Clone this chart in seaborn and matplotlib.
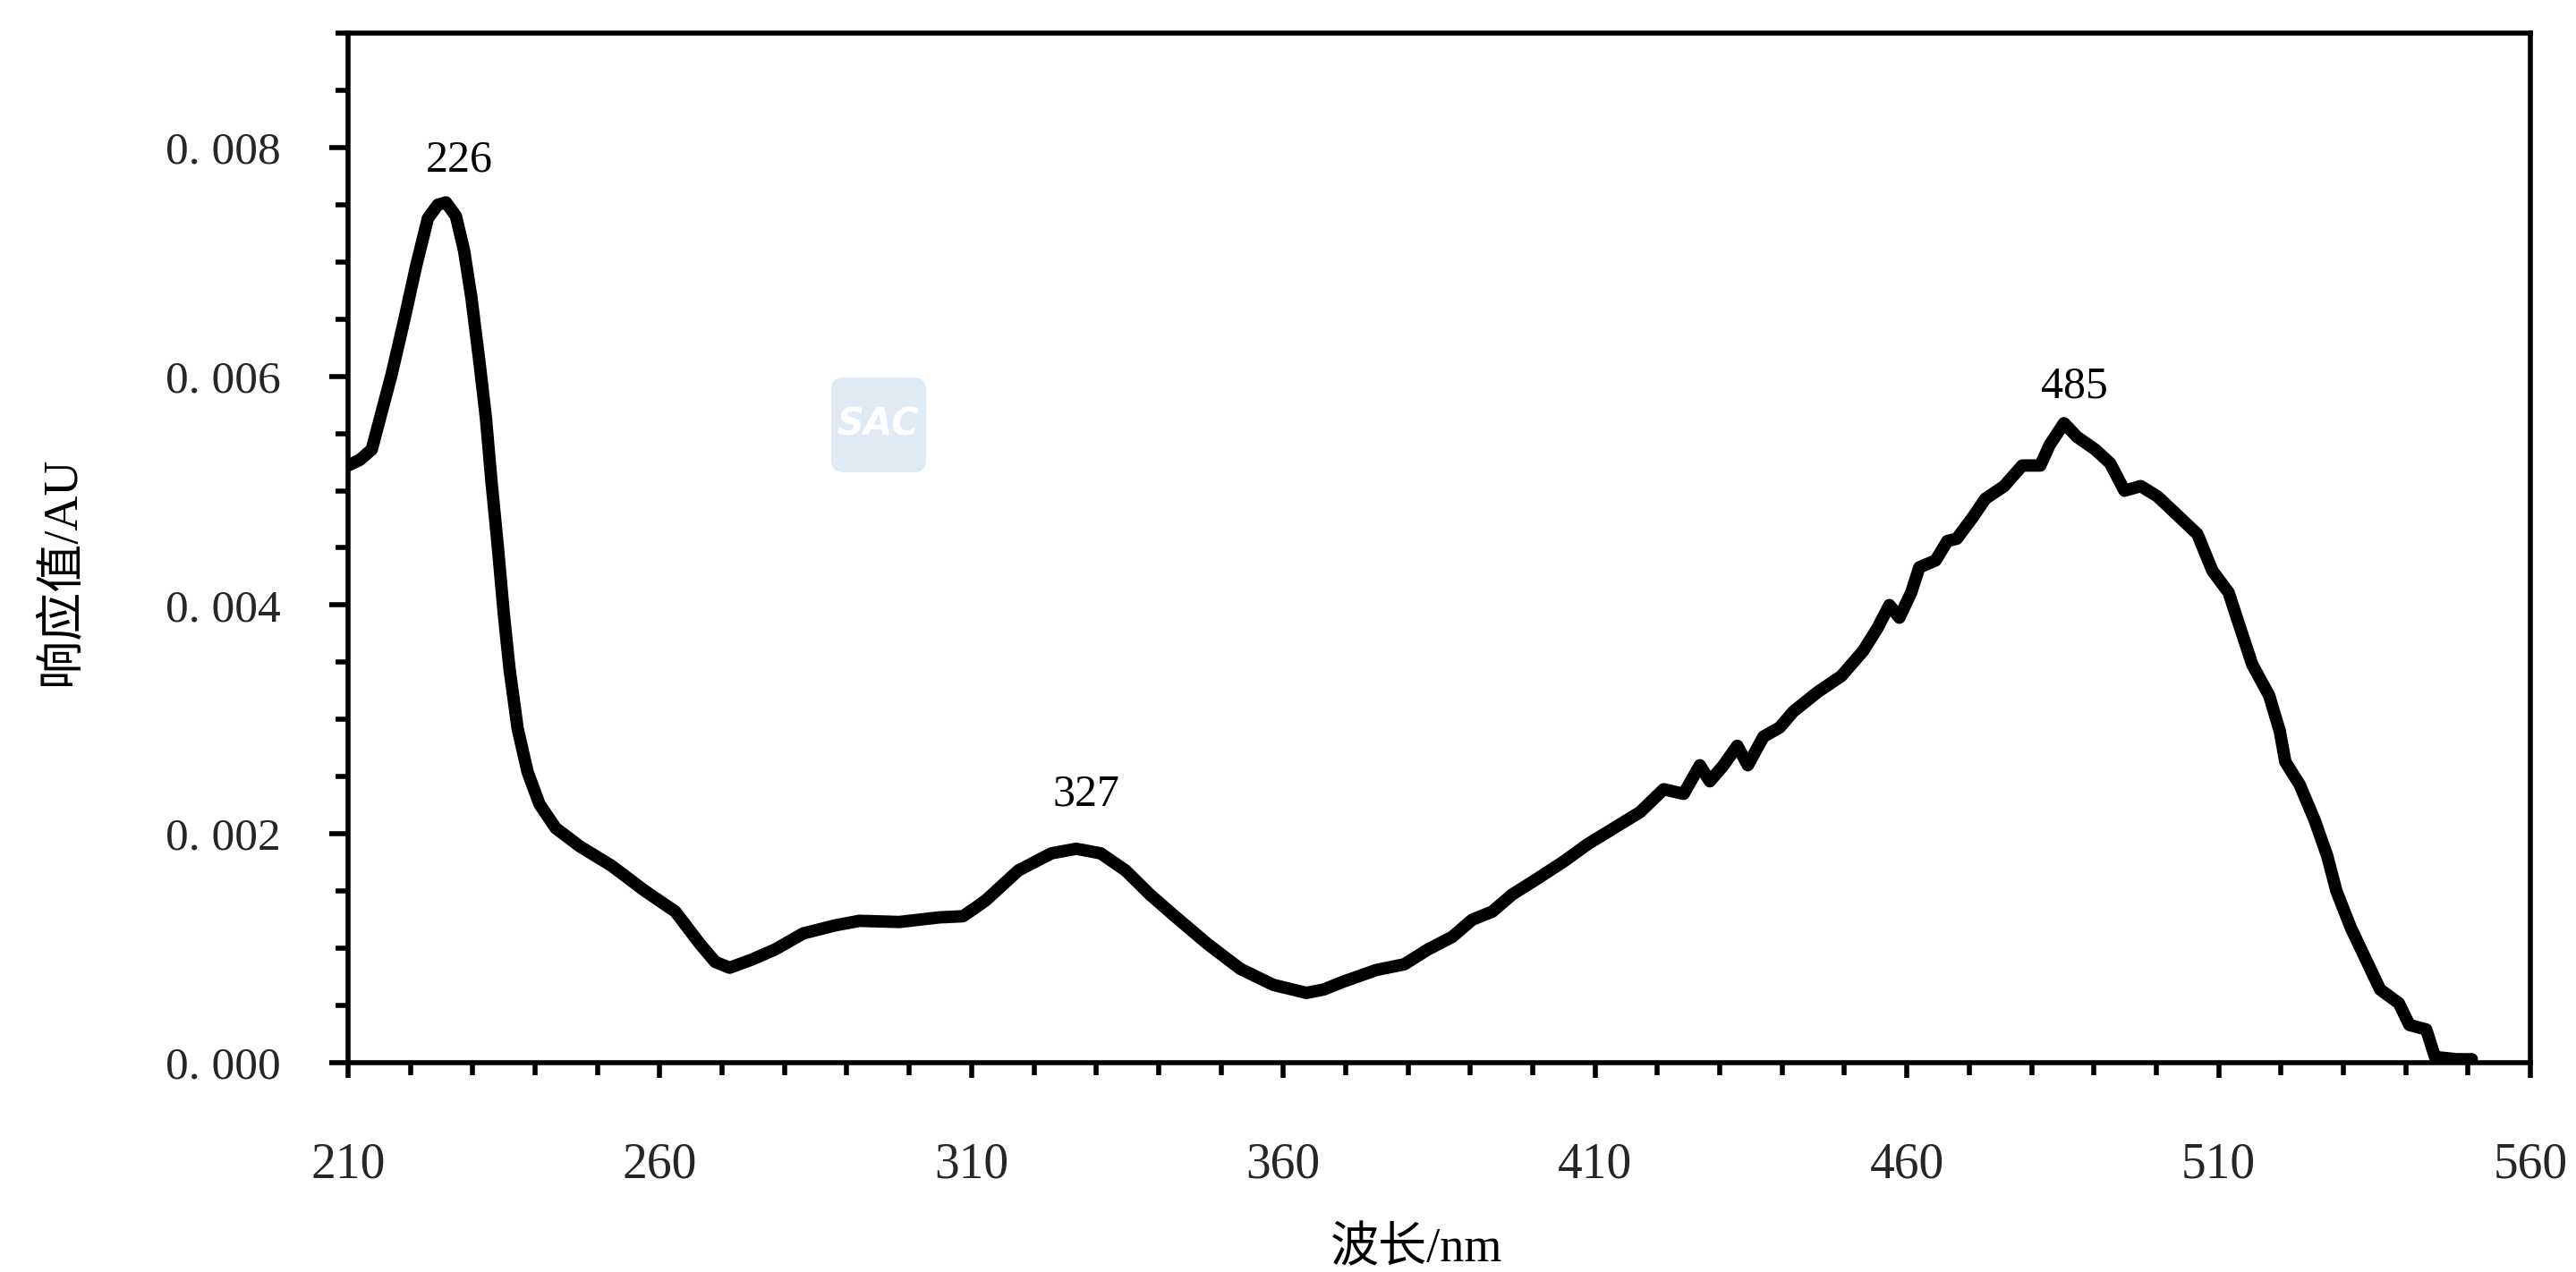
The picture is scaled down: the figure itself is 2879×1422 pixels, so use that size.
import matplotlib
matplotlib.use('Agg')
import matplotlib.pyplot as plt
import seaborn as sns
import pandas as pd
from matplotlib.ticker import MultipleLocator, FixedLocator, FixedFormatter
from matplotlib.patches import FancyBboxPatch

# ---------------- data ----------------
wavelength = [
    210.0, 211.9, 213.8, 215.4, 217.0, 219.0, 220.9, 222.8, 224.4, 225.7,
    227.3, 228.6, 229.8, 231.1, 232.1, 233.0, 234.0, 235.0, 235.9, 237.2,
    238.8, 240.7, 243.3, 247.2, 252.3, 257.4, 262.5, 266.4, 268.9, 271.2,
    274.7, 278.5, 283.0, 288.1, 292.0, 298.4, 304.8, 308.6, 310.5, 312.3,
    317.5, 322.8, 326.8, 330.7, 334.7, 338.6, 342.6, 347.8, 353.1, 358.4,
    363.7, 366.5, 369.7, 374.9, 379.4, 383.2, 387.1, 390.3, 393.5, 396.7,
    400.5, 405.0, 408.8, 412.7, 417.2, 421.0, 424.2, 426.8, 428.4, 430.6,
    432.8, 434.5, 437.0, 439.6, 441.8, 445.7, 449.5, 453.0, 455.3, 457.2,
    458.8, 460.7, 462.0, 464.6, 466.5, 468.0, 470.6, 472.6, 475.6, 478.5,
    481.4, 482.9, 485.2, 487.3, 490.2, 492.6, 494.9, 497.5, 500.2, 503.7,
    506.6, 509.0, 511.6, 513.7, 515.4, 518.1, 519.8, 520.7, 523.0, 525.4,
    527.4, 528.9, 531.2, 533.9, 535.9, 538.9, 540.6, 543.3, 544.7, 548.2,
    550.6,
]
response = [
    0.00522, 0.00527, 0.00536, 0.00569, 0.00602, 0.00649, 0.00696, 0.00738, 0.00750, 0.00752,
    0.00740, 0.00710, 0.00668, 0.00611, 0.00564, 0.00508, 0.00452, 0.00391, 0.00344, 0.00292,
    0.00254, 0.00226, 0.00205, 0.00189, 0.00172, 0.00151, 0.00132, 0.00104, 0.00088, 0.00083,
    0.00090, 0.00099, 0.00113, 0.00120, 0.00124, 0.00123, 0.00127, 0.00128, 0.00135, 0.00142,
    0.00168, 0.00183, 0.00187, 0.00183, 0.00168, 0.00147, 0.00128, 0.00104, 0.00082, 0.00068,
    0.00061, 0.00064, 0.00071, 0.00081, 0.00086, 0.00099, 0.00110, 0.00125, 0.00132, 0.00147,
    0.00160, 0.00176, 0.00191, 0.00204, 0.00219, 0.00239, 0.00235, 0.00260, 0.00246, 0.00260,
    0.00277, 0.00260, 0.00285, 0.00293, 0.00307, 0.00324, 0.00338, 0.00360, 0.00380, 0.00400,
    0.00389, 0.00411, 0.00433, 0.00439, 0.00456, 0.00458, 0.00477, 0.00493, 0.00504, 0.00522,
    0.00522, 0.00540, 0.00559, 0.00547, 0.00536, 0.00524, 0.00500, 0.00504, 0.00495, 0.00477,
    0.00462, 0.00430, 0.00411, 0.00376, 0.00348, 0.00321, 0.00290, 0.00263, 0.00243, 0.00212,
    0.00181, 0.00150, 0.00118, 0.00087, 0.00064, 0.00052, 0.00033, 0.00029, 0.00005, 0.00003,
    0.00003,
]

x_ticks = [210, 260, 310, 360, 410, 460, 510, 560]
x_tick_labels = ['210', '260', '310', '360', '410', '460', '510', '560']
y_ticks = [0.000, 0.002, 0.004, 0.006, 0.008]
y_tick_labels = ['0. 000', '0. 002', '0. 004', '0. 006', '0. 008']

peak_labels = ['226', '327', '485']
peak_label_x = [227.9, 328.4, 486.9]
peak_label_y = [0.00779, 0.002245, 0.00581]

x_label = '波长/nm'
y_label = '响应值/AU'

# ---------------- style ----------------
sns.set_style('ticks')
plt.rcParams['font.family'] = ['Liberation Serif', 'Noto Sans CJK SC', 'DejaVu Sans']
plt.rcParams['axes.unicode_minus'] = False

df = pd.DataFrame({'wl': wavelength, 'resp': response})

fig = plt.figure(figsize=(28.79, 14.22), dpi=100)
ax = fig.add_axes([0.13512, 0.16456, 0.84717, 0.80942])

sns.lineplot(data=df, x='wl', y='resp', ax=ax, color='black', linewidth=10,
             sort=False, estimator=None, solid_joinstyle='round',
             solid_capstyle='round')

ax.set_xlim(210, 560)
ax.set_ylim(0, 0.009)

ax.xaxis.set_major_locator(FixedLocator(x_ticks))
ax.xaxis.set_major_formatter(FixedFormatter(x_tick_labels))
ax.xaxis.set_minor_locator(MultipleLocator(10))
ax.yaxis.set_major_locator(FixedLocator(y_ticks))
ax.yaxis.set_major_formatter(FixedFormatter(y_tick_labels))
ax.yaxis.set_minor_locator(MultipleLocator(0.0005))

ax.tick_params(axis='y', which='major', direction='out', length=15, width=4,
               pad=39, labelsize=37, color='black')
ax.tick_params(axis='y', which='minor', direction='out', length=10, width=4,
               color='black')
ax.tick_params(axis='x', which='major', direction='out', length=12, width=4,
               pad=52, labelsize=40, color='black')
ax.tick_params(axis='x', which='minor', direction='out', length=10, width=4,
               color='black')
ax.tick_params(top=False, right=False, which='both')

for sp in ax.spines.values():
    sp.set_visible(True)
    sp.set_linewidth(4)
    sp.set_color('black')

ax.set_xlabel(x_label, fontsize=39, color='black')
ax.xaxis.set_label_coords(0.4895, -0.160)
ax.set_ylabel(y_label, fontsize=39, color='black', va='center')
ax.yaxis.set_label_coords(-0.131, 0.478)

for lab, px, py in zip(peak_labels, peak_label_x, peak_label_y):
    ax.text(px, py, lab, ha='center', va='baseline', fontsize=36, color='black')

# faint watermark logo
logo = FancyBboxPatch((9.29, 8.94), 1.06, 1.06,
                      boxstyle='round,pad=0,rounding_size=0.14',
                      transform=fig.dpi_scale_trans, fc='#e0eaf5', ec='none',
                      zorder=2)
fig.add_artist(logo)
fig.text(9.81, 9.47, 'SAC', transform=fig.dpi_scale_trans, ha='center',
         va='center', color='white', fontsize=30, fontweight='bold',
         fontstyle='italic', family='DejaVu Sans', zorder=3)

fig.savefig('out.png', dpi=100)
